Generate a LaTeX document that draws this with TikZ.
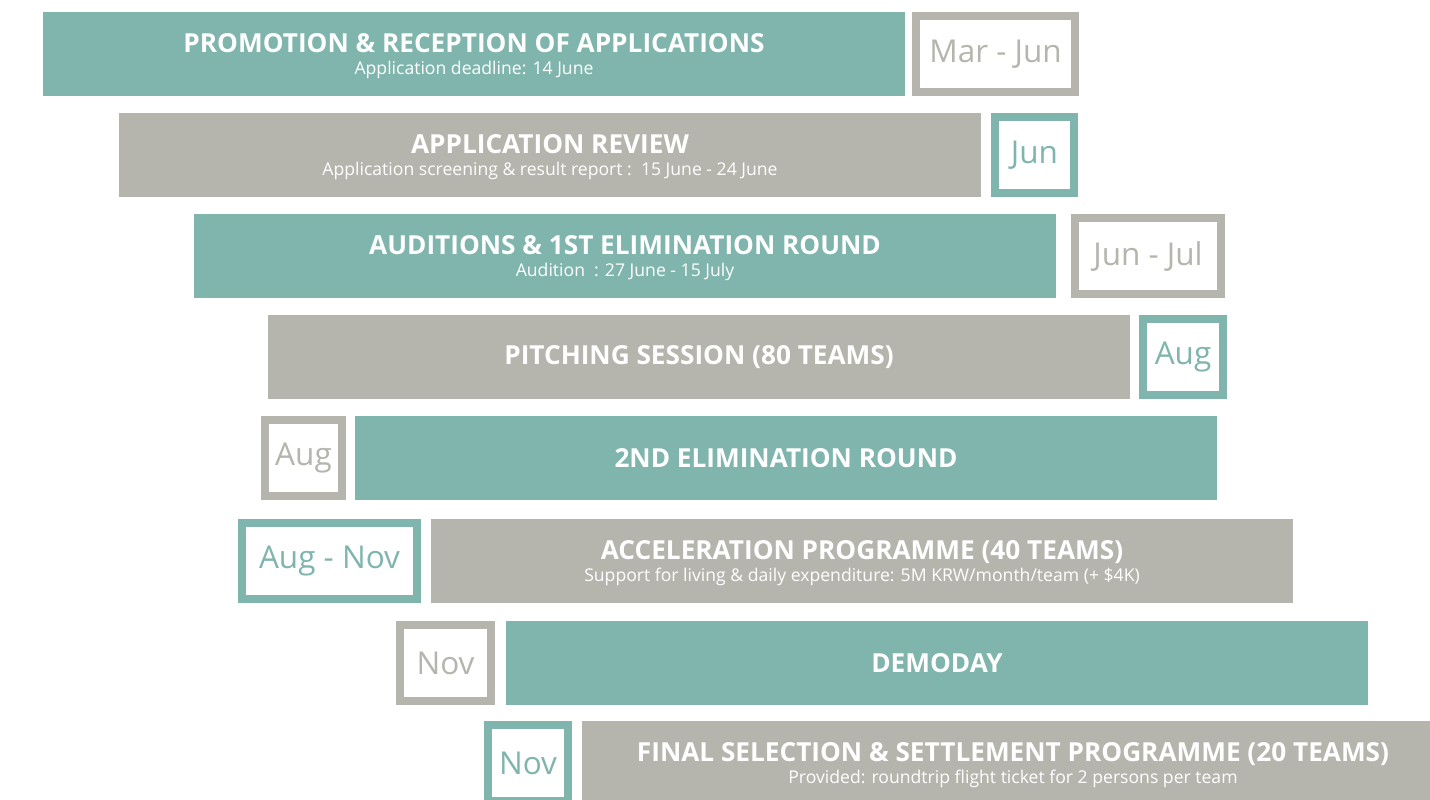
\documentclass[tikz,border=0pt]{standalone}
\usepackage{fontspec}
\setmainfont{Open Sans}
\usetikzlibrary{positioning}
\definecolor{sea}{HTML}{7FB5AD}
\definecolor{stone}{HTML}{B5B4AD}
\newcommand\titlefont{\fontsize{26.2}{30}\selectfont\bfseries}
\newcommand\subfont{\fontsize{17.6}{22}\selectfont}
\newcommand\datefont{\fontsize{31.5}{36}\selectfont}

\begin{document}
\begin{tikzpicture}[x=1pt,y=-1pt,node distance=10pt,
    bar/.style={rectangle,fill=#1,minimum width=862pt,minimum height=84pt,inner sep=0pt,outer sep=0pt,text=white,align=center,anchor=north west,font=\subfont},
    twoline/.style={text depth=0pt},
    datebox/.style={rectangle,draw=#1,line width=8pt,fill=white,text=#1,minimum height=76pt,inner sep=0pt,font=\datefont}]

    \useasboundingbox (0,0) rectangle (1430,800);
    \clip (0,0) rectangle (1430,800);

    \node (1) at (43,12) [bar=sea, twoline]{{\titlefont PROMOTION \& RECEPTION OF APPLICATIONS}\\Application deadline: 14 June};
    \node (2) at (119,113) [bar=stone, twoline]{{\titlefont APPLICATION REVIEW}\\Application screening \& result report :\ \ 15 June - 24 June};
    \node (3) at (194,214) [bar=sea, twoline]{{\titlefont AUDITIONS \& 1ST ELIMINATION ROUND}\\Audition\ \ : 27 June - 15 July};
    \node (4) at (268,315) [bar=stone]{\titlefont PITCHING SESSION (80 TEAMS)};
    \node (5) at (355,416) [bar=sea]{\titlefont 2ND ELIMINATION ROUND};
    \node (6) at (431,519) [bar=stone, twoline]{{\titlefont ACCELERATION PROGRAMME (40 TEAMS)}\\Support for living \& daily expenditure: 5M KRW/month/team (+ \$4K)};
    \node (7) at (506,621) [bar=sea]{\titlefont DEMODAY};
    \node (8) at (582,721) [bar=stone, twoline]{{\titlefont FINAL SELECTION \& SETTLEMENT PROGRAMME (20 TEAMS)}\\Provided: roundtrip flight ticket for 2 persons per team};

    \node (9) [right=7pt of 1, datebox=stone, minimum width=159pt]{Mar - Jun};
    \node (10) [right=10pt of 2, datebox=sea, minimum width=79pt]{Jun};
    \node (11) [right=15pt of 3, datebox=stone, minimum width=146pt]{Jun - Jul};
    \node (12) [right=9pt of 4, datebox=sea, minimum width=80pt]{Aug};
    \node (13) [left=9pt of 5, datebox=stone, minimum width=77pt]{Aug};
    \node (14) [left=10pt of 6, datebox=sea, minimum width=175pt]{Aug - Nov};
    \node (15) [left=11pt of 7, datebox=stone, minimum width=91pt]{Nov};
    \node (16) [left=10pt of 8, datebox=sea, minimum width=80pt]{Nov};
\end{tikzpicture}
\end{document}
